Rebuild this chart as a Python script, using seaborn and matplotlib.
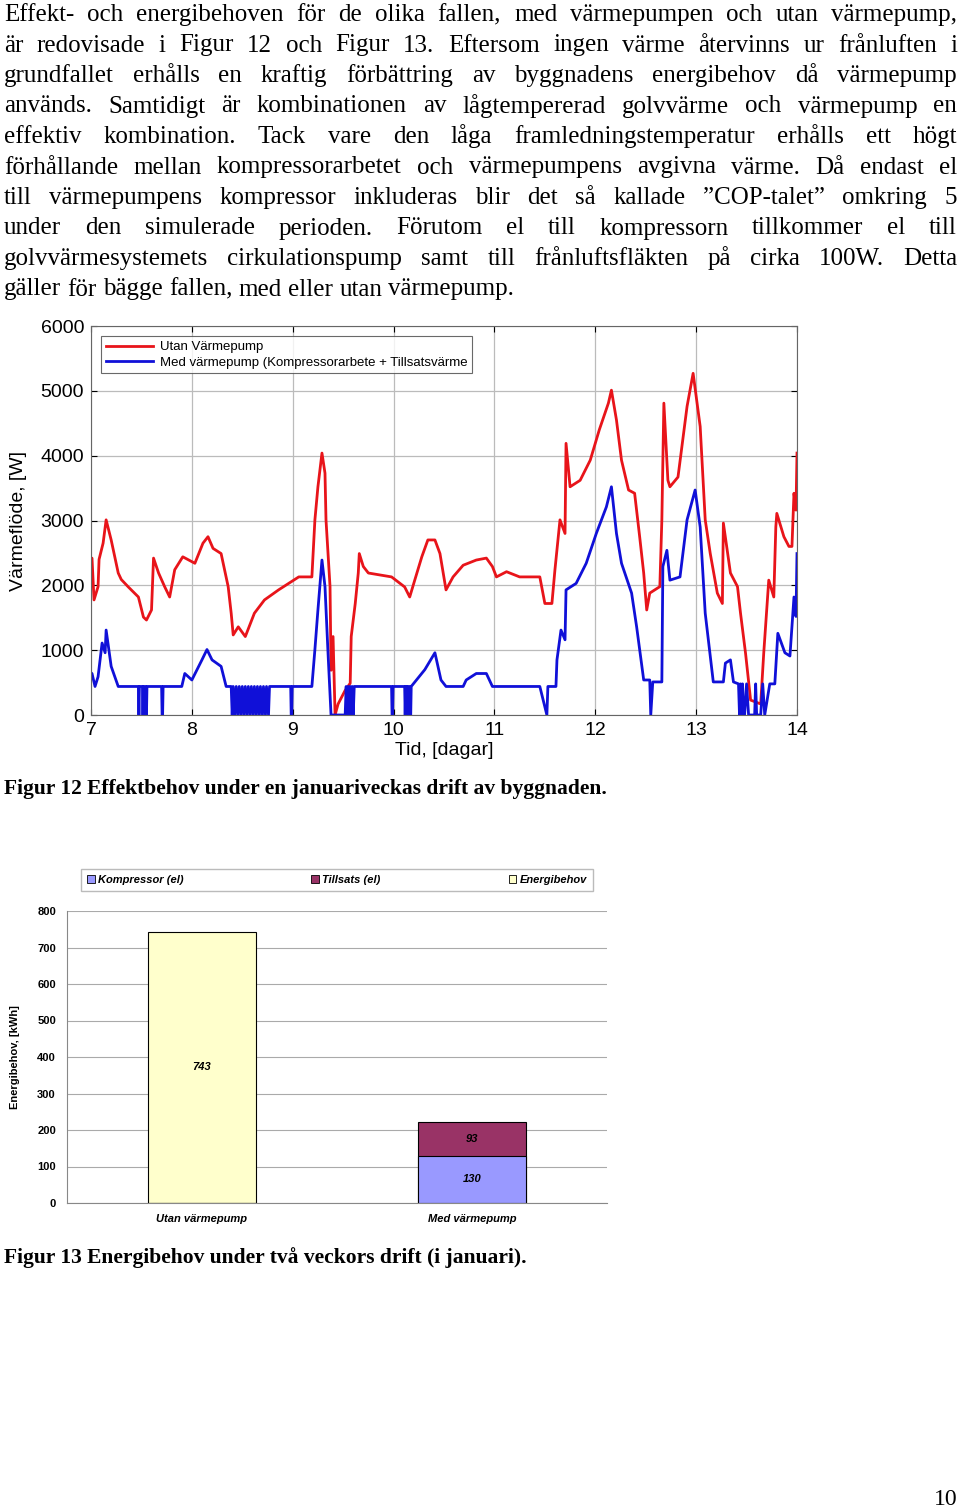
import matplotlib
matplotlib.use("Agg")
import matplotlib.pyplot as plt
from matplotlib.patches import Patch
import numpy as np
import pandas as pd
import seaborn as sns

SERIF = "Liberation Serif"
SANS = "Liberation Sans"

PARAGRAPH = [
    "Effekt- och energibehoven för de olika fallen, med värmepumpen och utan värmepump,",
    "är redovisade i Figur 12 och Figur 13. Eftersom ingen värme återvinns ur frånluften i",
    "grundfallet erhålls en kraftig förbättring av byggnadens energibehov då värmepump",
    "används. Samtidigt är kombinationen av lågtempererad golvvärme och värmepump en",
    "effektiv kombination. Tack vare den låga framledningstemperatur erhålls ett högt",
    "förhållande mellan kompressorarbetet och värmepumpens avgivna värme. Då endast el",
    "till värmepumpens kompressor inkluderas blir det så kallade ”COP-talet” omkring 5",
    "under den simulerade perioden. Förutom el till kompressorn tillkommer el till",
    "golvvärmesystemets cirkulationspump samt till frånluftsfläkten på cirka 100W. Detta",
    "gäller för bägge fallen, med eller utan värmepump.",
]

# Figur 12 data (tid i dagar, effekt i W)
red_t = [7.0, 7.01, 7.03, 7.07, 7.08, 7.12, 7.15, 7.20, 7.27, 7.30, 7.37, 7.47, 7.52, 7.55,
         7.60, 7.62, 7.67, 7.73, 7.78, 7.83, 7.91, 8.03, 8.11, 8.16, 8.21, 8.29, 8.36, 8.39,
         8.41, 8.46, 8.53, 8.62, 8.72, 8.86, 8.96, 9.06, 9.19, 9.22, 9.25, 9.29, 9.32, 9.33,
         9.37, 9.38, 9.40, 9.42, 9.45, 9.52, 9.57, 9.58, 9.62, 9.65, 9.66, 9.70, 9.75, 9.98,
         10.11, 10.16, 10.21, 10.28, 10.34, 10.41, 10.46, 10.52, 10.59, 10.69, 10.82, 10.92,
         10.98, 11.02, 11.12, 11.25, 11.45, 11.50, 11.57, 11.60, 11.65, 11.70, 11.71, 11.75,
         11.85, 11.95, 12.04, 12.13, 12.16, 12.21, 12.26, 12.33, 12.39, 12.44, 12.48, 12.51,
         12.54, 12.64, 12.66, 12.68, 12.72, 12.74, 12.82, 12.91, 12.97, 13.04, 13.09, 13.14,
         13.21, 13.26, 13.27, 13.34, 13.41, 13.44, 13.49, 13.54, 13.64, 13.67, 13.72, 13.77,
         13.79, 13.80, 13.87, 13.92, 13.95, 13.97, 13.99, 14.0]
red_w = [2400, 2420, 1775, 1980, 2400, 2650, 3010, 2700, 2190, 2090, 1975, 1820, 1510, 1465,
         1620, 2420, 2190, 1980, 1820, 2240, 2440, 2340, 2650, 2750, 2570, 2490, 1980, 1570,
         1235, 1360, 1210, 1570, 1775, 1930, 2030, 2130, 2130, 3010, 3520, 4040, 3730, 3010,
         1980, 690, 1210, 0, 170, 380, 490, 1210, 1720, 2190, 2490, 2290, 2190, 2130,
         1975, 1820, 2080, 2440, 2700, 2700, 2490, 1930, 2130, 2310, 2390, 2420,
         2290, 2130, 2210, 2130, 2130, 1720, 1720, 2240, 3010, 2800, 4190, 3520,
         3620, 3930, 4400, 4810, 5010, 4550, 3930, 3470, 3420, 2750, 2190, 1620,
         1880, 1980, 3010, 4810, 3620, 3520, 3670, 4760, 5270, 4450, 3010, 2490,
         1880, 1720, 2960, 2190, 1980, 1570, 950, 230, 170, 950, 2080, 1820,
         2900, 3110, 2750, 2600, 2600, 3420, 3160, 4040]

blue_t = [7.0, 7.01, 7.04, 7.07, 7.11, 7.14, 7.15, 7.20, 7.27, 7.47, 7.475, 7.48, 7.485,
          7.51, 7.515, 7.52, 7.525, 7.54, 7.545, 7.55, 7.555, 7.70, 7.705, 7.71, 7.715,
          7.90, 7.93, 8.0, 8.1, 8.15, 8.2, 8.29, 8.34, 8.39,
          8.40, 8.41, 8.43, 8.44, 8.46, 8.47, 8.49, 8.50, 8.52, 8.53, 8.55, 8.56, 8.58, 8.59,
          8.61, 8.62, 8.64, 8.65, 8.67, 8.68, 8.70, 8.71, 8.73, 8.74, 8.76, 8.77, 8.79,
          8.98, 8.985, 8.99, 8.995, 9.19, 9.22, 9.25, 9.29, 9.32, 9.35, 9.38, 9.52,
          9.53, 9.54, 9.55, 9.56, 9.57, 9.58, 9.59, 9.60, 9.61, 9.65,
          9.98, 9.985, 9.99, 9.995, 10.11, 10.115, 10.12, 10.13, 10.135, 10.14, 10.16,
          10.165, 10.17, 10.175, 10.31, 10.41, 10.47, 10.52, 10.69, 10.72, 10.82, 10.92,
          10.98, 11.45, 11.52, 11.53, 11.61, 11.62, 11.66, 11.70, 11.71, 11.81, 11.91, 12.01,
          12.11, 12.16, 12.21, 12.26, 12.36, 12.41, 12.48, 12.54, 12.55, 12.57, 12.66, 12.67,
          12.71, 12.74, 12.84, 12.91, 12.99, 13.04, 13.09, 13.14, 13.17, 13.27, 13.29, 13.34,
          13.37, 13.42, 13.43, 13.44, 13.45, 13.46, 13.47, 13.48, 13.50, 13.52, 13.58,
          13.59, 13.60, 13.62, 13.64, 13.66, 13.68, 13.73, 13.78, 13.81, 13.88, 13.93, 13.97,
          13.99, 14.0]
blue_w = [650, 640, 440, 590, 1110, 960, 1310, 750, 440, 440, 0, 440, 440,
          440, 0, 440, 440, 440, 0, 0, 440, 440, 0, 0, 440,
          440, 640, 540, 850, 1010, 850, 750, 440, 440,
          0, 440, 0, 440, 0, 440, 0, 440, 0, 440, 0, 440, 0, 440,
          0, 440, 0, 440, 0, 440, 0, 440, 0, 440, 0, 440, 440,
          440, 0, 0, 440, 440, 1010, 1620, 2390, 1980, 960, 0, 0,
          440, 0, 440, 0, 440, 0, 440, 0, 440, 440,
          440, 0, 0, 440, 440, 0, 440, 440, 0, 440, 440,
          0, 0, 440, 700, 960, 540, 440, 440, 540, 640, 640,
          440, 440, 0, 440, 440, 850, 1310, 1160, 1930, 2030, 2340, 2800,
          3210, 3520, 2800, 2340, 1880, 1360, 540, 540, 0, 510, 510, 2290,
          2540, 2080, 2130, 3010, 3470, 2900, 1570, 910, 510, 510, 800, 850,
          510, 480, 0, 480, 0, 480, 0, 0, 480, 0, 0,
          480, 0, 0, 0, 480, 0, 480, 480, 1260, 960, 910, 1820,
          1520, 2490]

x_ticks = [7, 8, 9, 10, 11, 12, 13, 14]
y_ticks = [0, 1000, 2000, 3000, 4000, 5000, 6000]

# Figur 13 data (kWh)
bar_cats = ["Utan värmepump", "Med värmepump"]
kompressor = [0, 130]
tillsats = [0, 93]
energibehov = [743, 0]
e_ticks = [0, 100, 200, 300, 400, 500, 600, 700, 800]

fig = plt.figure(figsize=(9.6, 15.08), dpi=100)
renderer = fig.canvas.get_renderer()


def justified(fig, words_line, y_px, left=4, right=957, size=18, justify=True):
    y = 1 - y_px / 1508
    words = words_line.split(" ")
    arts = [fig.text(0, y, w, fontsize=size, family=SERIF, va="baseline") for w in words]
    widths = [a.get_window_extent(renderer).width for a in arts]
    space = size * 0.25 * 100 / 72
    if justify and len(words) > 1:
        space = (right - left - sum(widths)) / (len(words) - 1)
    x = left
    for a, w in zip(arts, widths):
        a.set_x(x / 960)
        x += w + space


for i, line in enumerate(PARAGRAPH):
    justified(fig, line, 21 + i * 30.5, justify=(i < len(PARAGRAPH) - 1))

# ---------- Figur 12 ----------
ax = fig.add_axes([91 / 960, 1 - 715 / 1508, 706 / 960, 389 / 1508])
sns.lineplot(x=red_t, y=red_w, ax=ax, color="#e8141a", lw=2, label="Utan Värmepump",
             sort=False, estimator=None)
sns.lineplot(x=blue_t, y=blue_w, ax=ax, color="#1010d8", lw=2,
             label="Med värmepump (Kompressorarbete + Tillsatsvärme", sort=False, estimator=None)
ax.set_xlim(7, 14)
ax.set_ylim(0, 6000)
ax.set_xticks(x_ticks)
ax.set_yticks(y_ticks)
ax.tick_params(direction="in", top=True, right=True, labelsize=14, length=4, pad=5)
for lab in ax.get_xticklabels() + ax.get_yticklabels():
    lab.set_family(SANS)
ax.grid(True, color="#bbbbbb", lw=0.9)
for s in ax.spines.values():
    s.set_color("#666666")
    s.set_linewidth(0.8)
ax.set_xlabel("Tid, [dagar]", fontsize=14, family=SANS, labelpad=2)
ax.set_ylabel("Värmeflöde, [W]", fontsize=14, family=SANS, labelpad=10)
leg = ax.legend(loc="upper left", bbox_to_anchor=(0.005, 0.99), frameon=True,
                fancybox=False, borderpad=0.35, handlelength=3.6, labelspacing=0.25,
                handletextpad=0.5, prop={"family": SANS, "size": 9.5})
leg.get_frame().set_edgecolor("#444444")
leg.get_frame().set_linewidth(0.8)

fig.text(4 / 960, 1 - 794 / 1508, "Figur 12 Effektbehov under en januariveckas drift av byggnaden.",
         fontsize=15.5, family=SERIF, weight="bold", va="baseline")

# ---------- Figur 13 ----------
bx = fig.add_axes([67 / 960, 1 - 1203 / 1508, 540 / 960, 292 / 1508])
df = pd.DataFrame({"kat": bar_cats,
                   "total": np.array(kompressor) + np.array(tillsats) + np.array(energibehov),
                   "kompressor": kompressor})
top_colors = ["#ffffcc", "#993366"]
sns.barplot(data=df, x="kat", y="total", hue="kat", palette=top_colors, ax=bx, width=0.4,
            edgecolor="black", linewidth=0.8, legend=False, saturation=1)
sns.barplot(data=df, x="kat", y="kompressor", color="#9999ff", ax=bx, width=0.4,
            edgecolor="black", linewidth=0.8, saturation=1)
bx.set_xlim(-0.5, 1.5)
bx.set_ylim(0, 800)
bx.set_yticks(e_ticks)
bx.grid(True, axis="y", color="#aaaaaa", lw=0.8)
bx.set_axisbelow(True)
for s in ["top", "right"]:
    bx.spines[s].set_visible(False)
bx.spines["left"].set_color("#888888")
bx.spines["bottom"].set_color("#888888")
bx.tick_params(axis="y", length=0, labelsize=8, pad=8)
bx.tick_params(axis="x", length=0, labelsize=8, pad=8)
for lab in bx.get_yticklabels():
    lab.set_weight("bold")
    lab.set_family(SANS)
for lab in bx.get_xticklabels():
    lab.set_weight("bold")
    lab.set_style("italic")
    lab.set_family(SANS)
bx.set_xlabel("")
bx.set_ylabel("Energibehov, [kWh]", fontsize=8, weight="bold", family=SANS, labelpad=12)

val_kw = dict(ha="center", va="center", fontsize=8, weight="bold", style="italic", family=SANS)
bx.text(0, energibehov[0] / 2, str(energibehov[0]), **val_kw)
bx.text(1, kompressor[1] / 2, str(kompressor[1]), **val_kw)
bx.text(1, kompressor[1] + tillsats[1] / 2, str(tillsats[1]), **val_kw)

handles = [Patch(facecolor="#9999ff", edgecolor="black", lw=0.6, label="Kompressor (el)"),
           Patch(facecolor="#993366", edgecolor="black", lw=0.6, label="Tillsats (el)"),
           Patch(facecolor="#ffffcc", edgecolor="black", lw=0.6, label="Energibehov")]
lg = fig.legend(handles=handles, loc="center", bbox_to_anchor=(337 / 960, 1 - 880 / 1508),
                ncol=3, frameon=True, fancybox=False, handlelength=0.7, handleheight=0.7,
                handletextpad=0.3, columnspacing=11.5, borderpad=0.5, borderaxespad=0,
                prop={"family": SANS, "size": 8, "weight": "bold", "style": "italic"})
lg.get_frame().set_edgecolor("#aaaaaa")

fig.text(4 / 960, 1 - 1263 / 1508, "Figur 13 Energibehov under två veckors drift (i januari).",
         fontsize=15.5, family=SERIF, weight="bold", va="baseline")
fig.text(958 / 960, 1 - 1505 / 1508, "10", fontsize=17, family=SERIF, ha="right", va="baseline")

fig.savefig("out.png", dpi=100)
